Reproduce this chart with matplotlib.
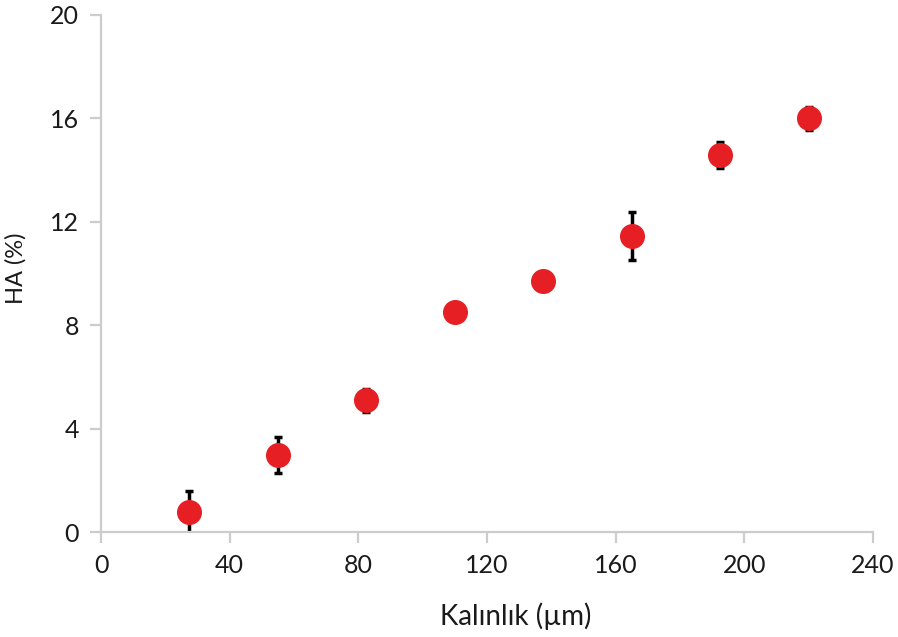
import numpy as np
import matplotlib.pyplot as plt

plt.rcParams['font.family'] = ['Lato', 'DejaVu Sans']

# kalınlık (µm) ve HA (%) değerleri
kalinlik = [27.5, 55, 82.5, 110, 137.5, 165, 192.5, 220]
ha = [0.77, 2.98, 5.1, 8.5, 9.7, 11.45, 14.6, 16.0]
ha_err = [0.8, 0.7, 0.45, 0.1, 0.1, 0.93, 0.5, 0.45]

xticks = [0, 40, 80, 120, 160, 200, 240]
yticks = [0, 4, 8, 12, 16, 20]

fig = plt.figure(figsize=(8.98, 6.37), dpi=100)
ax = fig.add_axes([0.1125, 0.1648, 0.8595, 0.8117])

ax.errorbar(kalinlik, ha, yerr=ha_err, fmt='none', ecolor='black',
            elinewidth=2.5, capsize=3, capthick=2.5, zorder=2)
ax.plot(kalinlik, ha, 'o', color='#e51f23', markersize=17, zorder=3)

ax.set_xlim(0, 240)
ax.set_ylim(0, 20)
ax.set_xticks(xticks)
ax.set_yticks(yticks)

for s in ['top', 'right']:
    ax.spines[s].set_visible(False)
for s in ['left', 'bottom']:
    ax.spines[s].set_color('#cccccc')
    ax.spines[s].set_linewidth(1.6)

ax.tick_params(axis='both', direction='out', length=8, width=1.6,
               color='#cccccc', labelsize=18, labelcolor='#1a1a1a', pad=8)

ax.set_xlabel('Kalınlık (µm)', fontsize=20, color='#1a1a1a')
ax.xaxis.set_label_coords(0.5376, -0.137)
ax.set_ylabel('HA (%)', fontsize=17, color='#1a1a1a')
ax.yaxis.set_label_coords(-0.096, 0.51)

fig.savefig('out.png', dpi=100)
